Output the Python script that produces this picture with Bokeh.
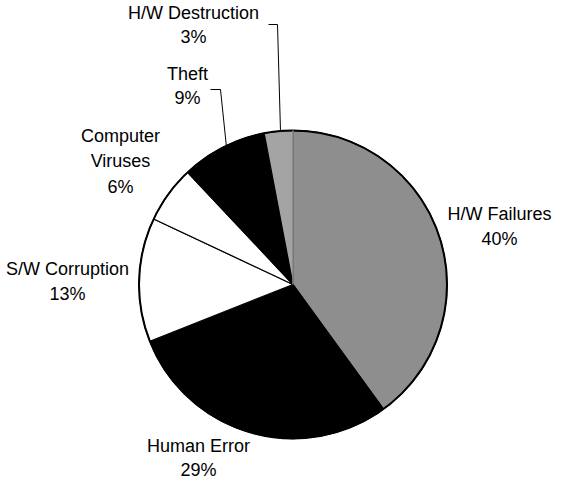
import math
from bokeh.plotting import figure
from bokeh.models import Range1d, ColumnDataSource
from bokeh.embed import file_html
from bokeh.resources import INLINE
from bokeh.core.properties import value

# ---- data ----
categories = ["H/W Failures", "Human Error", "S/W Corruption", "Computer Viruses", "Theft", "H/W Destruction"]
shares = [40, 29, 13, 6, 9, 3]
label_lines = [["H/W Failures"], ["Human Error"], ["S/W Corruption"], ["Computer", "Viruses"], ["Theft"], ["H/W Destruction"]]

# ---- style / layout ----
fills = ["#8e8e8e", "#000000", "#ffffff", "#ffffff", "#000000", "#a4a4a4"]
W, H = 554, 482
MX, MY = 8, 8  # page margin


def sx(X):
    return X - MX


def sy(Y):
    return (H + MY) - Y


cx, cy, R = sx(300.5), sy(292), 154
# label anchor (screen px) of first line, and line spacing per label
label_pos = [(507, 221), (206, 453), (75, 276), (128, 143), (195, 81), (201, 20)]
line_gap = [25.5, 24.0, 25.5, 25.5, 24.0, 24.5]

p = figure(width=W, height=H, output_backend="svg", toolbar_location=None,
           x_range=Range1d(0, W), y_range=Range1d(0, H), min_border=0)
p.axis.visible = False
p.grid.visible = False
p.outline_line_color = None
p.background_fill_color = "white"
p.border_fill_color = "white"

total = float(sum(shares))
starts, ends = [], []
c = 0.0
for v in shares:
    starts.append(math.pi / 2 - 2 * math.pi * c / total)
    c += v
    ends.append(math.pi / 2 - 2 * math.pi * c / total)

src = ColumnDataSource(dict(cat=categories, share=shares, start=starts, end=ends, fill=fills))
p.wedge(x=cx, y=cy, radius=R, start_angle="start", end_angle="end", direction="clock",
        fill_color="fill", line_color="black", line_width=1.2, source=src)
p.circle(x=cx, y=cy, radius=R, fill_color=None, line_color="black", line_width=2)

# light seam between the two grey slices (at the start angle)
p.line(x=[cx, cx + R * math.cos(starts[0])], y=[cy, cy + R * math.sin(starts[0])],
       line_color="#d8d8d8", line_width=1)

# labels
tx, ty, tt = [], [], []
for lines, share, (X, Y), g in zip(label_lines, shares, label_pos, line_gap):
    allines = lines + [f"{share}%"]
    for i, s in enumerate(allines):
        tx.append(sx(X))
        ty.append(sy(Y + i * g))
        tt.append(s)
p.text(x=tx, y=ty, text=tt, text_align="center", text_baseline="middle",
       text_font=value("Liberation Sans"), text_font_size="18px", text_color="black")

# leader lines (Theft, H/W Destruction)
leaders = [
    [(218, 97), (228, 97), (234, 155)],
    [(276, 32), (285, 32), (288, 139)],
]
p.multi_line(xs=[[sx(a) for a, b in L] for L in leaders],
             ys=[[sy(b) for a, b in L] for L in leaders],
             line_color="black", line_width=1)

open("out.html", "w").write(file_html(p, INLINE))
